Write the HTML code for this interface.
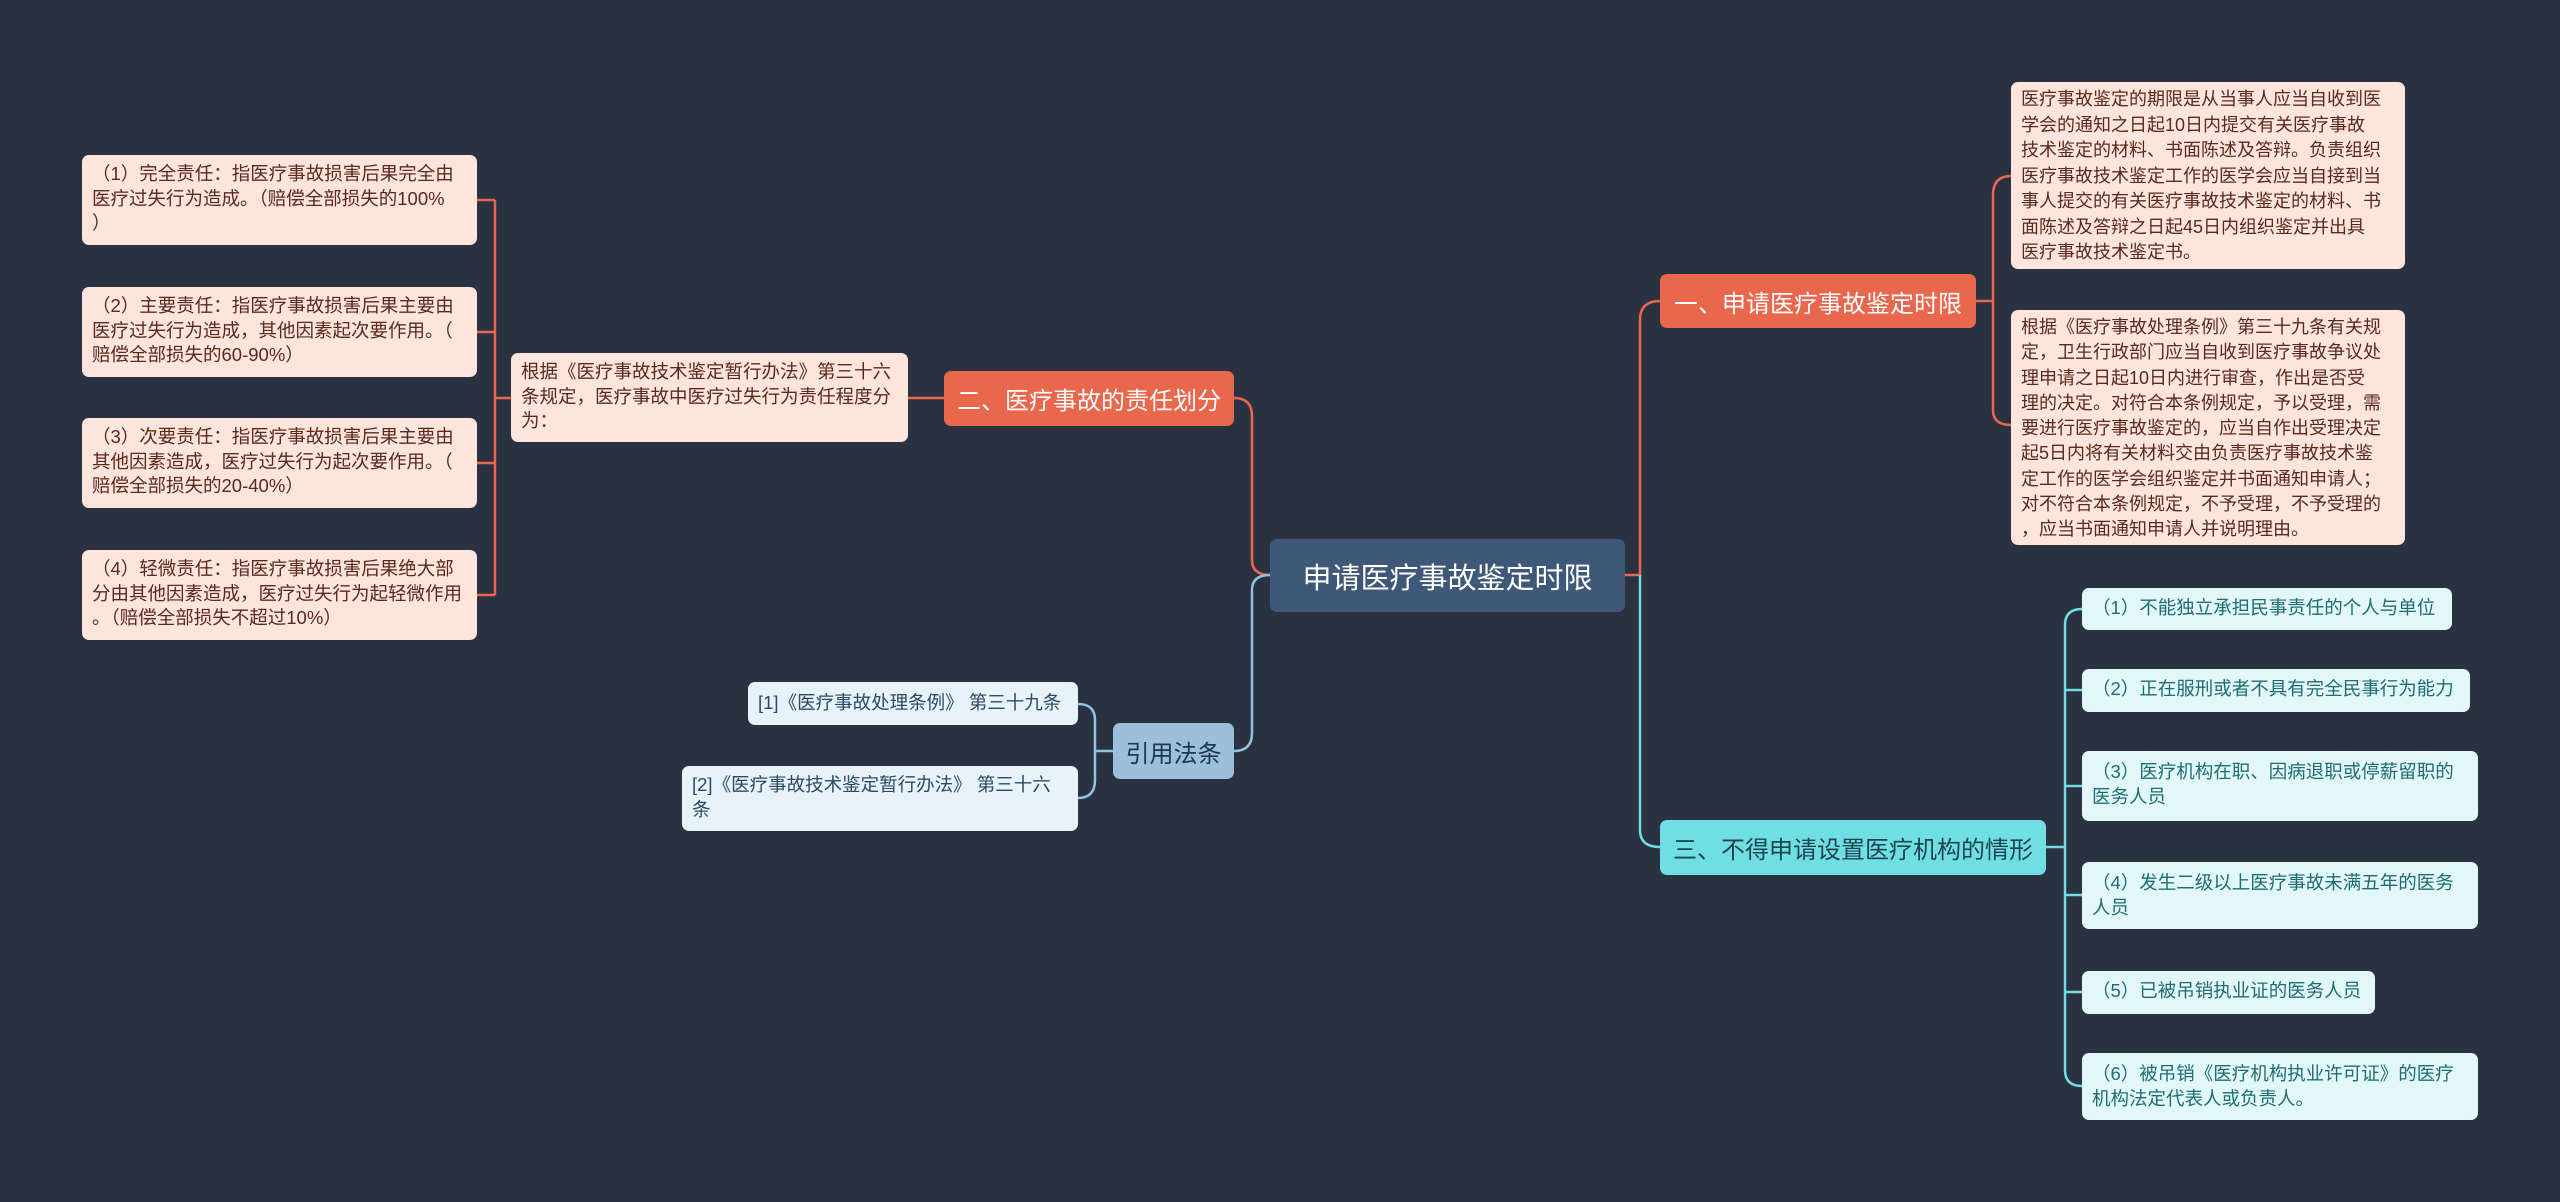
<!DOCTYPE html>
<html><head><meta charset="utf-8"><style>
body{margin:0;width:2560px;height:1202px;background:#2a3140;overflow:hidden;position:relative;font-family:"Liberation Sans","Noto Sans CJK SC",sans-serif}
.n{position:absolute;box-sizing:border-box;border-radius:7px;white-space:nowrap}
.p{background:#fde4dd;color:#5a2a1a;font-size:18.5px;line-height:24.5px;padding:7px 10px}
.c{background:#e2f7f8;color:#1f6d73;font-size:18.5px;line-height:24.5px;padding:8px 10px}
.r{background:#e8f2f9;color:#2b4a66;font-size:18.5px;line-height:24.5px;padding:8px 10px}
.o{background:#e9674c;color:#fff;font-size:24px;display:flex;align-items:center;justify-content:center}
svg{position:absolute;left:0;top:0}
</style></head><body>
<svg width="2560" height="1202" fill="none" stroke-width="2.5">
<g stroke="#e9674c">
<path d="M944 398 H908"/>
<path d="M511 398 H495 M495 200 V595 M477 200 H495 M477 332 H495 M477 463 H495 M477 595 H495"/>
<path d="M1234 398 Q1252 398 1252 416 V560 Q1252 575 1270 575"/>
<path d="M1625 575 H1640 V320 Q1640 301 1660 301"/>
<path d="M1976 301 H1993 M1993 195 V410 M1993 195 Q1993 176 2011 176 M1993 410 Q1993 425 2011 425"/>
</g>
<g stroke="#8fc3e0">
<path d="M1234 751 Q1252 751 1252 733 V590 Q1252 575 1270 575"/>
<path d="M1113 751 H1095 M1095 720 V780 M1078 704 Q1095 704 1095 720 M1078 798 Q1095 798 1095 780"/>
</g>
<g stroke="#6fdde3">
<path d="M1640 575 V830 Q1640 847 1660 847"/>
<path d="M2046 847 H2065 M2065 625 V1070 M2065 625 Q2065 609 2082 609 M2065 690 H2082 M2065 786 H2082 M2065 895 H2082 M2065 992 H2082 M2065 1070 Q2065 1086 2082 1086"/>
</g>
</svg>

<div class="n" style="left:1270px;top:539px;width:355px;height:73px;background:#3f5878;color:#fff;font-size:29px;display:flex;align-items:center;justify-content:center">申请医疗事故鉴定时限</div>

<div class="n o" style="left:944px;top:371px;width:290px;height:55px">二、医疗事故的责任划分</div>
<div class="n p" style="left:511px;top:353px;width:397px;height:89px">根据《医疗事故技术鉴定暂行办法》第三十六<br>条规定，医疗事故中医疗过失行为责任程度分<br>为：</div>
<div class="n p" style="left:82px;top:155px;width:395px;height:90px">（1）完全责任：指医疗事故损害后果完全由<br>医疗过失行为造成。（赔偿全部损失的100%<br>）</div>
<div class="n p" style="left:82px;top:287px;width:395px;height:90px">（2）主要责任：指医疗事故损害后果主要由<br>医疗过失行为造成，其他因素起次要作用。（<br>赔偿全部损失的60-90%）</div>
<div class="n p" style="left:82px;top:418px;width:395px;height:90px">（3）次要责任：指医疗事故损害后果主要由<br>其他因素造成，医疗过失行为起次要作用。（<br>赔偿全部损失的20-40%）</div>
<div class="n p" style="left:82px;top:550px;width:395px;height:90px">（4）轻微责任：指医疗事故损害后果绝大部<br>分由其他因素造成，医疗过失行为起轻微作用<br>。（赔偿全部损失不超过10%）</div>

<div class="n" style="left:1113px;top:723px;width:121px;height:56px;background:#9cc0dc;color:#1f3550;font-size:24px;display:flex;align-items:center;justify-content:center">引用法条</div>
<div class="n r" style="left:748px;top:682px;width:330px;height:43px;padding-top:9px">[1]《医疗事故处理条例》 第三十九条</div>
<div class="n r" style="left:682px;top:766px;width:396px;height:65px;padding-top:7px">[2]《医疗事故技术鉴定暂行办法》 第三十六<br>条</div>

<div class="n o" style="left:1660px;top:274px;width:316px;height:54px">一、申请医疗事故鉴定时限</div>
<div class="n p" style="left:2011px;top:82px;width:394px;height:187px;padding:5px 10px;font-size:18px;line-height:25.5px">医疗事故鉴定的期限是从当事人应当自收到医<br>学会的通知之日起10日内提交有关医疗事故<br>技术鉴定的材料、书面陈述及答辩。负责组织<br>医疗事故技术鉴定工作的医学会应当自接到当<br>事人提交的有关医疗事故技术鉴定的材料、书<br>面陈述及答辩之日起45日内组织鉴定并出具<br>医疗事故技术鉴定书。</div>
<div class="n p" style="left:2011px;top:310px;width:394px;height:235px;padding:5px 10px;font-size:18px;line-height:25.3px">根据《医疗事故处理条例》第三十九条有关规<br>定，卫生行政部门应当自收到医疗事故争议处<br>理申请之日起10日内进行审查，作出是否受<br>理的决定。对符合本条例规定，予以受理，需<br>要进行医疗事故鉴定的，应当自作出受理决定<br>起5日内将有关材料交由负责医疗事故技术鉴<br>定工作的医学会组织鉴定并书面通知申请人；<br>对不符合本条例规定，不予受理，不予受理的<br>，应当书面通知申请人并说明理由。</div>

<div class="n" style="left:1660px;top:820px;width:386px;height:55px;background:#6fdfe4;color:#1d4550;font-size:24px;display:flex;align-items:center;justify-content:center">三、不得申请设置医疗机构的情形</div>
<div class="n c" style="left:2082px;top:588px;width:370px;height:42px">（1）不能独立承担民事责任的个人与单位</div>
<div class="n c" style="left:2082px;top:669px;width:388px;height:43px">（2）正在服刑或者不具有完全民事行为能力</div>
<div class="n c" style="left:2082px;top:751px;width:396px;height:70px;padding-top:9px">（3）医疗机构在职、因病退职或停薪留职的<br>医务人员</div>
<div class="n c" style="left:2082px;top:862px;width:396px;height:67px;padding-top:9px">（4）发生二级以上医疗事故未满五年的医务<br>人员</div>
<div class="n c" style="left:2082px;top:971px;width:293px;height:43px">（5）已被吊销执业证的医务人员</div>
<div class="n c" style="left:2082px;top:1053px;width:396px;height:67px;padding-top:9px">（6）被吊销《医疗机构执业许可证》的医疗<br>机构法定代表人或负责人。</div>
</body></html>
